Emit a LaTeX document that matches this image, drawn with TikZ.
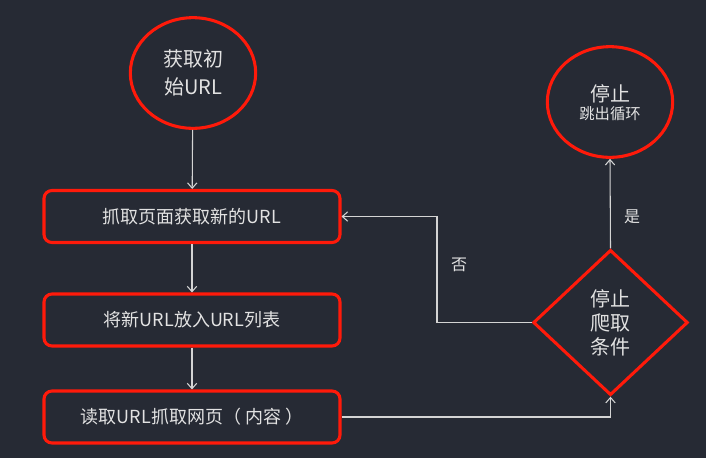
\documentclass[tikz,border=0pt]{standalone}
\usepackage{fontspec}
\setmainfont{Noto Sans CJK SC}
\usepackage{xcolor}
\usepackage{tikz}
\usetikzlibrary{arrows.meta,shapes.geometric}

\definecolor{bgdark}{HTML}{262A34}
\definecolor{redline}{HTML}{FF1A0A}
\definecolor{txtgray}{HTML}{E2E2E2}
\definecolor{arrgray}{HTML}{D4D4D4}

\begin{document}
\begin{tikzpicture}[
  x=0.75pt, y=-0.75pt,
  stepbox/.style={draw=redline, line width=2.3pt, rounded corners=6pt, minimum width=222pt, minimum height=39pt, inner sep=0pt, text=txtgray, font=\fontsize{13.5pt}{18pt}\selectfont},
  oval/.style={ellipse, draw=redline, line width=2.3pt, minimum width=94pt, minimum height=83pt, inner sep=0pt, text=txtgray, align=center},
  cond/.style={diamond, draw=redline, line width=2.3pt, minimum width=116pt, minimum height=109pt, inner sep=0pt, text=txtgray, align=center, font=\fontsize{15pt}{18pt}\selectfont},
  flow/.style={draw=arrgray, line width=0.8pt, -{Straight Barb[length=4pt,width=7pt]}},
  tag/.style={text=txtgray, font=\fontsize{12pt}{14pt}\selectfont}
]
\fill[bgdark] (0,0) rectangle (706,458);
\useasboundingbox (0,0) rectangle (706,458);

% nodes
\node[oval, font=\fontsize{15pt}{21pt}\selectfont] (start) at (193,73) {获取初\\始URL};
\node[stepbox] (fetch) at (192,216.5) {抓取页面获取新的URL};
\node[stepbox] (queue) at (192,320) {将新URL放入URL列表};
\node[stepbox] (read) at (192,417) {读取URL抓取网页（ 内容 ）};
\node[cond] (check) at (610.5,322.5) {停止\\爬取\\条件};
\node[oval, font=\fontsize{11.5pt}{14pt}\selectfont, text depth=-9pt] (stop) at (610,102) {{\fontsize{15pt}{15pt}\selectfont 停止}\\跳出循环};

% connectors
\draw[flow] (start) -- (fetch);
\draw[flow] (fetch) -- (queue);
\draw[flow] (queue) -- (read);
\draw[flow] (read.east) -| (check.south);
\draw[flow] (check.west) -- (437,322.5) |- (fetch.east);
\draw[flow] (check.north) -- (stop.south);

% labels
\node[tag] (yes) at (632,217) {是};
\node[tag] (no) at (459,265) {否};
\end{tikzpicture}
\end{document}
